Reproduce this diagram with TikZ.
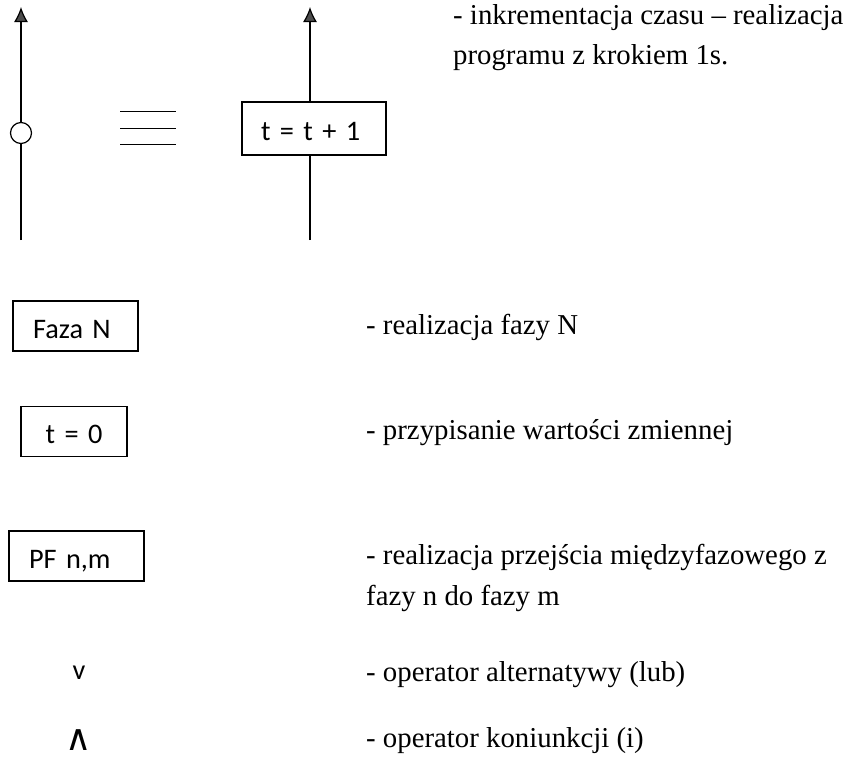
\documentclass[tikz,border=0pt]{standalone}
\usepackage{fontspec}
\setmainfont{Liberation Serif}
\newfontfamily\boxfont{Carlito}
\newfontfamily\symfont{DejaVu Sans}
\usetikzlibrary{arrows.meta}

\begin{document}
\begin{tikzpicture}[x=1pt,y=-1pt,
    block/.style={draw,line width=1.2pt,minimum height=50pt,inner xsep=20pt,
      align=left,text height=27pt,text depth=3pt,
      font=\boxfont\fontsize{28.3}{34}\selectfont},
    desc/.style={anchor=base west,inner sep=0pt,font=\fontsize{28.8}{42}\selectfont},
    wire/.style={line width=1.2pt},
    flow/.style={line width=1.2pt,-{Latex[length=15pt,width=14pt,fill=black!70]}}]
  \useasboundingbox (0,0) rectangle (851,758);

  \coordinate (bottom1) at (21,240);
  \coordinate (top1) at (21,7);
  \node[draw,circle,line width=1.2pt,minimum size=21pt,inner sep=0pt] (dot) at (21,133) {};
  \draw[wire] (bottom1) -- (dot);
  \draw[flow] (dot) -- (top1);

  \foreach \y in {111,128,144}
    \draw[line width=1pt] (120,\y) -- (176,\y);

  \node[block,minimum height=53pt,inner xsep=19pt,text width=106pt] (incr) at (314,128.5) {t = t + 1};
  \coordinate (bottom2) at (310,240);
  \coordinate (top2) at (310,7);
  \draw[wire] (bottom2) -- (bottom2 |- incr.south);
  \draw[flow] (top2 |- incr.north) -- (top2);

  \node[block,text width=85pt] (phase) at (75.5,326) {Faza N};
  \node[block,align=center,text width=66pt] (assign) at (74,431.5) {t = 0};
  \node[block,text width=95pt] (trans) at (76.5,556) {PF n,m};
  \node[font=\boxfont\fontsize{28.3}{34}\selectfont] (or) at (79,673) {v};
  \node[font=\symfont\fontsize{36}{40}\selectfont] (and) at (79,740) {∧};

  \node[desc] (incrtext) at (453,24) {- inkrementacja czasu – realizacja};
  \node[desc] (incrtext2) at (453,64) {programu z krokiem 1s.};
  \node[desc] (phasetext) at (366,334) {- realizacja fazy N};
  \node[desc] (assigntext) at (366,439) {- przypisanie wartości zmiennej};
  \node[desc] (transtext) at (366,564) {- realizacja przejścia międzyfazowego z};
  \node[desc] (transtext2) at (366,605) {fazy n do fazy m};
  \node[desc] (ortext) at (366,681) {- operator alternatywy (lub)};
  \node[desc] (andtext) at (366,747) {- operator koniunkcji (i)};
\end{tikzpicture}
\end{document}
